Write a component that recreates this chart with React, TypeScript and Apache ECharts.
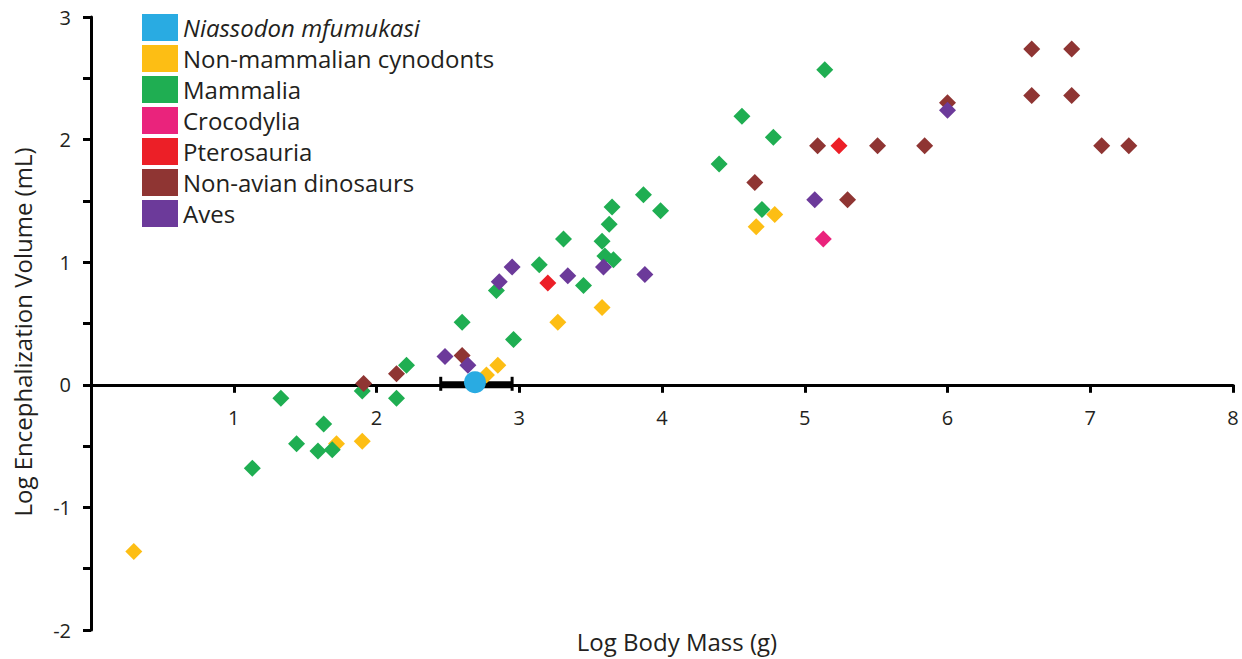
import React, { useEffect, useRef } from "react";
import * as echarts from "echarts";

const FONT = "'Open Sans', 'Noto Sans', sans-serif";
const TEXT = "#231f20";

const seriesNames = [
  "Niassodon mfumukasi",
  "Non-mammalian cynodonts",
  "Mammalia",
  "Crocodylia",
  "Pterosauria",
  "Non-avian dinosaurs",
  "Aves",
];

const niassodon: number[][] = [[2.69, 0.02]];
const niassodonRange: number[][] = [[2.45, 2.95, 0.0]];

const cynodonts: number[][] = [
  [0.30, -1.36], [1.72, -0.48], [1.90, -0.46], [2.77, 0.08], [2.85, 0.16],
  [3.27, 0.51], [3.58, 0.63], [4.66, 1.29], [4.79, 1.39],
];

const mammalia: number[][] = [
  [1.13, -0.68], [1.33, -0.11], [1.44, -0.48], [1.63, -0.32], [1.59, -0.54],
  [1.69, -0.53], [1.90, -0.05], [2.14, -0.11], [2.21, 0.16], [2.60, 0.51],
  [2.84, 0.77], [2.96, 0.37], [3.14, 0.98], [3.31, 1.19], [3.45, 0.81],
  [3.58, 1.17], [3.63, 1.31], [3.65, 1.45], [3.60, 1.05], [3.66, 1.02],
  [3.87, 1.55], [3.99, 1.42], [4.40, 1.80], [4.56, 2.19], [4.78, 2.02],
  [5.14, 2.57], [4.70, 1.43],
];

const crocodylia: number[][] = [[5.13, 1.19]];

const pterosauria: number[][] = [[3.20, 0.83], [5.24, 1.95]];

const dinosaurs: number[][] = [
  [1.91, 0.01], [2.14, 0.09], [2.60, 0.24], [4.65, 1.65], [5.09, 1.95],
  [5.30, 1.51], [5.51, 1.95], [5.84, 1.95], [6.00, 2.30], [6.59, 2.74],
  [6.87, 2.74], [6.59, 2.36], [6.87, 2.36], [7.08, 1.95], [7.27, 1.95],
];

const aves: number[][] = [
  [2.48, 0.23], [2.64, 0.16], [2.86, 0.84], [2.95, 0.96], [3.34, 0.89],
  [3.59, 0.96], [3.88, 0.90], [5.07, 1.51], [6.00, 2.24],
];

const colors: Record<string, string> = {
  "Niassodon mfumukasi": "#29abe2",
  "Non-mammalian cynodonts": "#fdbe14",
  "Mammalia": "#1fae52",
  "Crocodylia": "#ea237c",
  "Pterosauria": "#ec1f27",
  "Non-avian dinosaurs": "#8f3533",
  "Aves": "#6c3a9a",
};

const scatter = (name: string, data: number[][], z: number) => ({
  name,
  type: "scatter",
  data,
  symbol: "diamond",
  symbolSize: 17,
  z,
  itemStyle: { color: colors[name], opacity: 1 },
  emphasis: { disabled: true },
});

const GRID_TOP = 17;
const GRID_BOTTOM = 29;
const CHART_H = 659;
const Y_MIN = -2;
const Y_MAX = 3;

export default function App() {
  const ref = useRef<HTMLDivElement>(null);
  useEffect(() => {
    if (!ref.current) return;
    const chart = echarts.init(ref.current, undefined, { renderer: "svg" });
    const gridH = CHART_H - GRID_TOP - GRID_BOTTOM;
    const zeroOffset = -(gridH * (0 - Y_MIN)) / (Y_MAX - Y_MIN);
    chart.setOption({
      animation: false,
      backgroundColor: "#ffffff",
      grid: {
        left: 91,
        right: 9,
        top: GRID_TOP,
        bottom: GRID_BOTTOM,
        containLabel: false,
        outerBoundsMode: "none",
      },
      legend: {
        orient: "vertical",
        left: 142,
        top: 14,
        padding: 0,
        itemWidth: 36,
        itemHeight: 27,
        itemGap: 4,
        icon: "rect",
        data: seriesNames,
        selectedMode: false,
        formatter: (n: string) => (n === "Niassodon mfumukasi" ? `{i|${n}}` : n),
        textStyle: {
          fontFamily: FONT,
          fontSize: 24,
          color: TEXT,
          rich: { i: { fontStyle: "italic", fontFamily: FONT, fontSize: 24, color: TEXT } },
        },
      },
      xAxis: {
        type: "value",
        min: 0,
        max: 8,
        interval: 1,
        position: "bottom",
        offset: zeroOffset,
        splitLine: { show: false },
        axisLine: { onZero: false, lineStyle: { color: "#000", width: 3 } },
        axisTick: { length: 8, lineStyle: { color: "#000", width: 3 } },
        axisLabel: {
          formatter: (v: number) => (v === 0 ? "" : String(v)),
          fontFamily: FONT,
          fontSize: 20,
          color: TEXT,
          margin: 23,
        },
      },
      yAxis: {
        type: "value",
        min: Y_MIN,
        max: Y_MAX,
        interval: 1,
        splitLine: { show: false },
        axisLine: { onZero: false, lineStyle: { color: "#000", width: 3 } },
        axisTick: { length: 8, lineStyle: { color: "#000", width: 3 } },
        minorTick: { show: true, splitNumber: 2, length: 8, lineStyle: { color: "#000", width: 3 } },
        minorSplitLine: { show: false },
        axisLabel: {
          fontFamily: FONT,
          fontSize: 20,
          color: TEXT,
          margin: 20,
          showMinLabel: true,
          showMaxLabel: true,
        },
      },
      graphic: [
        {
          type: "text",
          x: 22,
          y: 332,
          rotation: Math.PI / 2,
          style: {
            text: "Log Encephalization Volume (mL)",
            fontFamily: FONT,
            fontSize: 24,
            fill: TEXT,
            align: "center",
            verticalAlign: "middle",
          },
        },
        {
          type: "text",
          x: 677,
          y: 641,
          style: {
            text: "Log Body Mass (g)",
            fontFamily: FONT,
            fontSize: 24,
            fill: TEXT,
            align: "center",
            verticalAlign: "middle",
          },
        },
      ],
      series: [
        {
          type: "custom",
          name: "range",
          z: 3,
          data: niassodonRange,
          renderItem: (params: any, api: any) => {
            const p1 = api.coord([api.value(0), api.value(2)]);
            const p2 = api.coord([api.value(1), api.value(2)]);
            const st = { stroke: "#000", lineWidth: 3 };
            return {
              type: "group",
              children: [
                { type: "line", shape: { x1: p1[0], y1: p1[1], x2: p2[0], y2: p2[1] }, style: { stroke: "#000", lineWidth: 7 } },
                { type: "line", shape: { x1: p1[0], y1: p1[1] - 8, x2: p1[0], y2: p1[1] + 6 }, style: st },
                { type: "line", shape: { x1: p2[0], y1: p2[1] - 8, x2: p2[0], y2: p2[1] + 6 }, style: st },
              ],
            };
          },
        },
        scatter("Non-mammalian cynodonts", cynodonts, 4),
        scatter("Mammalia", mammalia, 5),
        scatter("Crocodylia", crocodylia, 6),
        scatter("Pterosauria", pterosauria, 6),
        scatter("Non-avian dinosaurs", dinosaurs, 7),
        scatter("Aves", aves, 8),
        {
          name: "Niassodon mfumukasi",
          type: "scatter",
          data: niassodon,
          symbol: "circle",
          symbolSize: 22,
          z: 9,
          itemStyle: { color: colors["Niassodon mfumukasi"], opacity: 1 },
          emphasis: { disabled: true },
        },
      ],
    });
    return () => chart.dispose();
  }, []);
  return (
    <div
      ref={ref}
      style={{ position: "fixed", left: 0, top: 0, width: 1242, height: 659, background: "#fff" }}
    />
  );
}
